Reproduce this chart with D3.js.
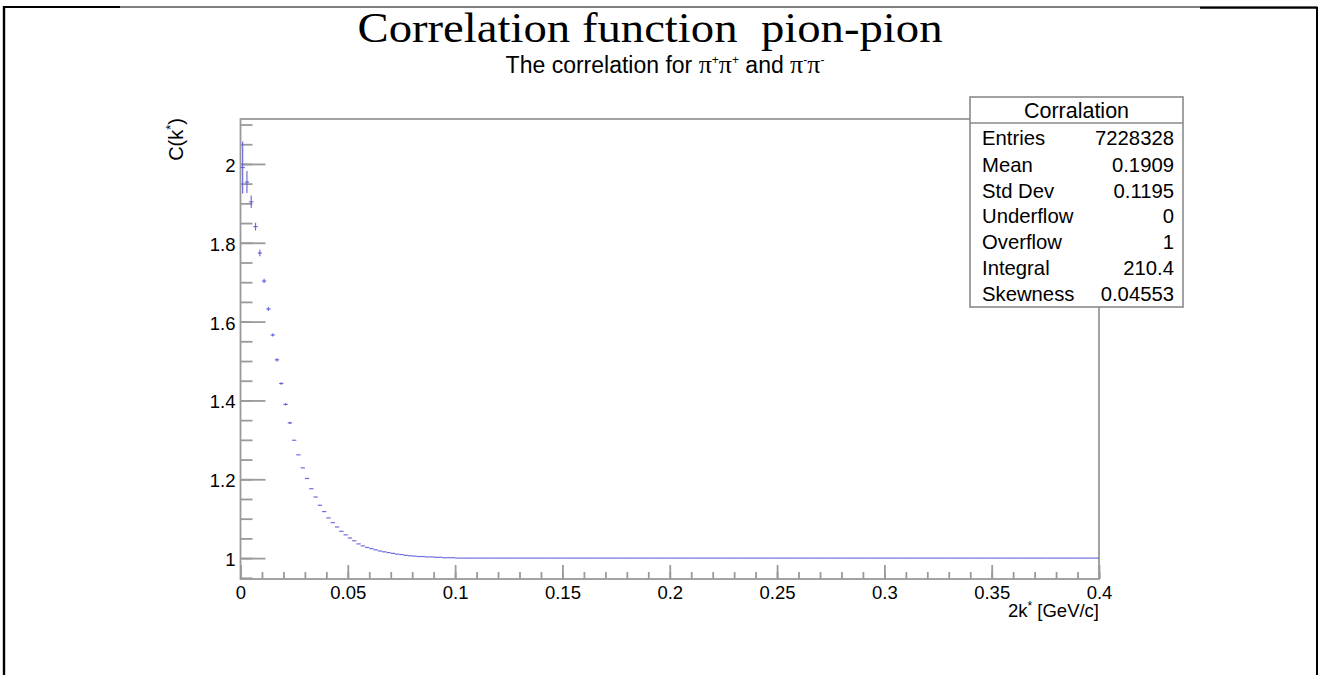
<!DOCTYPE html>
<html><head><meta charset="utf-8">
<script src="https://cdn.jsdelivr.net/npm/d3@7"></script>
<style>body{margin:0;background:#fff} svg{display:block}</style>
</head><body><svg id="c" width="1320" height="675"></svg>
<script>
// ---- data ----
const binLow = 0, binWidth = 0.002;
const values = [
 1.991,1.954,1.904,1.841,1.774,1.703,1.632,1.566,1.503,1.443,1.390,1.343,1.299,1.262,1.229,1.202,1.176,1.155,1.134,1.118,1.102,1.090,1.079,1.068,1.059,
 1.051,1.044,1.036,1.031,1.027,1.024,1.021,1.018,1.016,1.014,1.012,1.010,1.009,1.007,1.006,1.005,1.004,1.004,1.003,1.003,1.002,1.002,1.001,1.001,1.001,
 1.000,1.000,1.000,1.000,1.000,1.000,1.000,1.000,1.000,1.000,1.000,1.000,1.000,1.000,1.000,1.000,1.000,1.000,1.000,1.000,1.000,1.000,1.000,1.000,1.000,
 1.000,1.000,1.000,1.000,1.000,1.000,1.000,1.000,1.000,1.000,1.000,1.000,1.000,1.000,1.000,1.000,1.000,1.000,1.000,1.000,1.000,1.000,1.000,1.000,1.000,
 1.000,1.000,1.000,1.000,1.000,1.000,1.000,1.000,1.000,1.000,1.000,1.000,1.000,1.000,1.000,1.000,1.000,1.000,1.000,1.000,1.000,1.000,1.000,1.000,1.000,
 1.000,1.000,1.000,1.000,1.000,1.000,1.000,1.000,1.000,1.000,1.000,1.000,1.000,1.000,1.000,1.000,1.000,1.000,1.000,1.000,1.000,1.000,1.000,1.000,1.000,
 1.000,1.000,1.000,1.000,1.000,1.000,1.000,1.000,1.000,1.000,1.000,1.000,1.000,1.000,1.000,1.000,1.000,1.000,1.000,1.000,1.000,1.000,1.000,1.000,1.000,
 1.000,1.000,1.000,1.000,1.000,1.000,1.000,1.000,1.000,1.000,1.000,1.000,1.000,1.000,1.000,1.000,1.000,1.000,1.000,1.000,1.000,1.000,1.000,1.000,1.000
];
const errors = [0.066,0.028,0.016,0.010,0.008,0.006,0.005,0.004,0.004,0.003,0.003,0.003];
const xTicks = [0,0.05,0.1,0.15,0.2,0.25,0.3,0.35,0.4];
const xTickLabels = ["0","0.05","0.1","0.15","0.2","0.25","0.3","0.35","0.4"];
const yTicks = [1,1.2,1.4,1.6,1.8,2];
const yTickLabels = ["1","1.2","1.4","1.6","1.8","2"];
const statsTitle = "Corralation";
const statsNames = ["Entries","Mean","Std Dev","Underflow","Overflow","Integral","Skewness"];
const statsValues = ["7228328","0.1909","0.1195","0","1","210.4","0.04553"];

// ---- layout ----
const SANS = "'Liberation Sans', Arial, Helvetica, sans-serif";
const SERIF = "'Liberation Serif', 'Times New Roman', serif";
const svg = d3.select("#c");
const F = {l:240.5, r:1099, t:119, b:579};
const x = d3.scaleLinear().domain([0,0.4]).range([F.l,F.r]);
const y = d3.scaleLinear().domain([0.947,2.114]).range([F.b,F.t]);
const AX = "#9a9a9a";

// page border
const border = svg.append("g").attr("fill","none").attr("stroke","#000");
border.append("line").attr("x1",4).attr("x2",1317).attr("y1",7).attr("y2",7).attr("stroke-width",1.2);
border.append("line").attr("x1",3).attr("x2",120).attr("y1",7).attr("y2",7).attr("stroke-width",2.2);
border.append("line").attr("x1",1200).attr("x2",1318).attr("y1",7.8).attr("y2",7.8).attr("stroke-width",2);
border.append("line").attr("x1",4).attr("x2",4).attr("y1",6).attr("y2",675).attr("stroke-width",2.4);
border.append("line").attr("x1",1317).attr("x2",1317).attr("y1",7).attr("y2",675).attr("stroke-width",2);

// titles
svg.append("text").attr("x",650).attr("y",42).attr("text-anchor","middle")
  .attr("font-family",SERIF).attr("font-size",43).attr("fill","#000")
  .style("white-space","pre")
  .attr("textLength",585).attr("lengthAdjust","spacingAndGlyphs")
  .text("Correlation function  pion-pion");
const st = svg.append("text").attr("x",665).attr("y",73).attr("text-anchor","middle")
  .attr("font-family",SANS).attr("font-size",23).attr("fill","#000");
st.append("tspan").text("The correlation for ");
st.append("tspan").attr("font-family",SERIF).attr("font-size",26).text("π");
st.append("tspan").attr("font-size",12).attr("dy",-9).text("+");
st.append("tspan").attr("font-family",SERIF).attr("font-size",26).attr("dy",9).text("π");
st.append("tspan").attr("font-size",12).attr("dy",-9).text("+");
st.append("tspan").attr("dy",9).text(" and ");
st.append("tspan").attr("font-family",SERIF).attr("font-size",26).text("π");
st.append("tspan").attr("font-size",12).attr("dy",-9).text("-");
st.append("tspan").attr("font-family",SERIF).attr("font-size",26).attr("dy",9).text("π");
st.append("tspan").attr("font-size",12).attr("dy",-9).text("-");

// frame
svg.append("rect").attr("x",F.l).attr("y",F.t).attr("width",F.r-F.l).attr("height",F.b-F.t)
  .attr("fill","none").attr("stroke",AX).attr("stroke-width",1.8);

// y axis
const yMinor = d3.range(0.95,2.11,0.05).map(v=>+v.toFixed(2));
const gyMin = svg.append("g").attr("transform",`translate(${F.l},0)`)
  .call(d3.axisLeft(y).tickValues(yMinor).tickSize(-12).tickFormat(""));
const gy = svg.append("g").attr("transform",`translate(${F.l},0)`)
  .call(d3.axisLeft(y).tickValues(yTicks).tickSize(-25).tickPadding(5).tickFormat((d,i)=>yTickLabels[i]));
// x axis
const xMinor = d3.range(0,0.4001,0.01).map(v=>+v.toFixed(2));
const gxMin = svg.append("g").attr("transform",`translate(0,${F.b})`)
  .call(d3.axisBottom(x).tickValues(xMinor).tickSize(-7).tickFormat(""));
const gx = svg.append("g").attr("transform",`translate(0,${F.b})`)
  .call(d3.axisBottom(x).tickValues(xTicks).tickSize(-14).tickPadding(7).tickFormat((d,i)=>xTickLabels[i]));
[gyMin,gy,gxMin,gx].forEach(g=>{
  g.select(".domain").remove();
  g.selectAll(".tick line").attr("stroke",AX).attr("stroke-width",1.8);
  g.selectAll(".tick text").attr("font-family",SANS).attr("font-size",18.5).attr("fill","#000");
});
gy.selectAll(".tick text").attr("dy","0.4em");

// axis titles
const xt = svg.append("text").attr("x",F.r).attr("y",617).attr("text-anchor","end")
  .attr("font-family",SANS).attr("font-size",18.5).attr("fill","#000");
xt.append("tspan").text("2k");
xt.append("tspan").attr("font-size",12).attr("dy",-7).text("*");
xt.append("tspan").attr("dy",7).text(" [GeV/c]");
const yt = svg.append("text").attr("transform",`translate(183,118) rotate(-90)`).attr("text-anchor","end")
  .attr("font-family",SANS).attr("font-size",20).attr("fill","#000");
yt.append("tspan").text("C(k");
yt.append("tspan").attr("font-size",13).attr("dy",-8).text("*");
yt.append("tspan").attr("dy",8).text(")");

// data
const bins = values.map((v,i)=>({lo:binLow+i*binWidth, hi:binLow+(i+1)*binWidth, v, e:errors[i]||0}));
const gd = svg.append("g").attr("stroke","#5555d8").attr("stroke-width",1.2).attr("stroke-opacity",0.85);
gd.selectAll("line.h").data(bins).join("line").attr("class","h")
  .attr("x1",d=>x(d.lo)).attr("x2",d=>x(d.hi)).attr("y1",d=>y(d.v)).attr("y2",d=>y(d.v));
gd.selectAll("line.v").data(bins.filter(d=>d.e>0)).join("line").attr("class","v")
  .attr("x1",d=>x((d.lo+d.hi)/2)).attr("x2",d=>x((d.lo+d.hi)/2))
  .attr("y1",d=>y(d.v-d.e)).attr("y2",d=>y(d.v+d.e));

// stats box
const S = {l:970, r:1183, t:97, b:307};
svg.append("rect").attr("x",S.l).attr("y",S.t).attr("width",S.r-S.l).attr("height",S.b-S.t)
  .attr("fill","#fff").attr("stroke","#8a8a8a").attr("stroke-width",1.6);
svg.append("line").attr("x1",S.l).attr("x2",S.r).attr("y1",123).attr("y2",123)
  .attr("stroke","#8a8a8a").attr("stroke-width",1.4);
svg.append("text").attr("x",(S.l+S.r)/2).attr("y",118).attr("text-anchor","middle")
  .attr("font-family",SANS).attr("font-size",21.5).attr("fill","#000").text(statsTitle);
const rowY = [145,172,198,223,249,275,301];
svg.selectAll("text.sn").data(statsNames).join("text").attr("class","sn")
  .attr("x",982).attr("y",(d,i)=>rowY[i]).attr("font-family",SANS).attr("font-size",20.3).attr("fill","#000").text(d=>d);
svg.selectAll("text.sv").data(statsValues).join("text").attr("class","sv")
  .attr("x",1174).attr("y",(d,i)=>rowY[i]).attr("text-anchor","end").attr("font-family",SANS).attr("font-size",20.3).attr("fill","#000").text(d=>d);
</script></body></html>
